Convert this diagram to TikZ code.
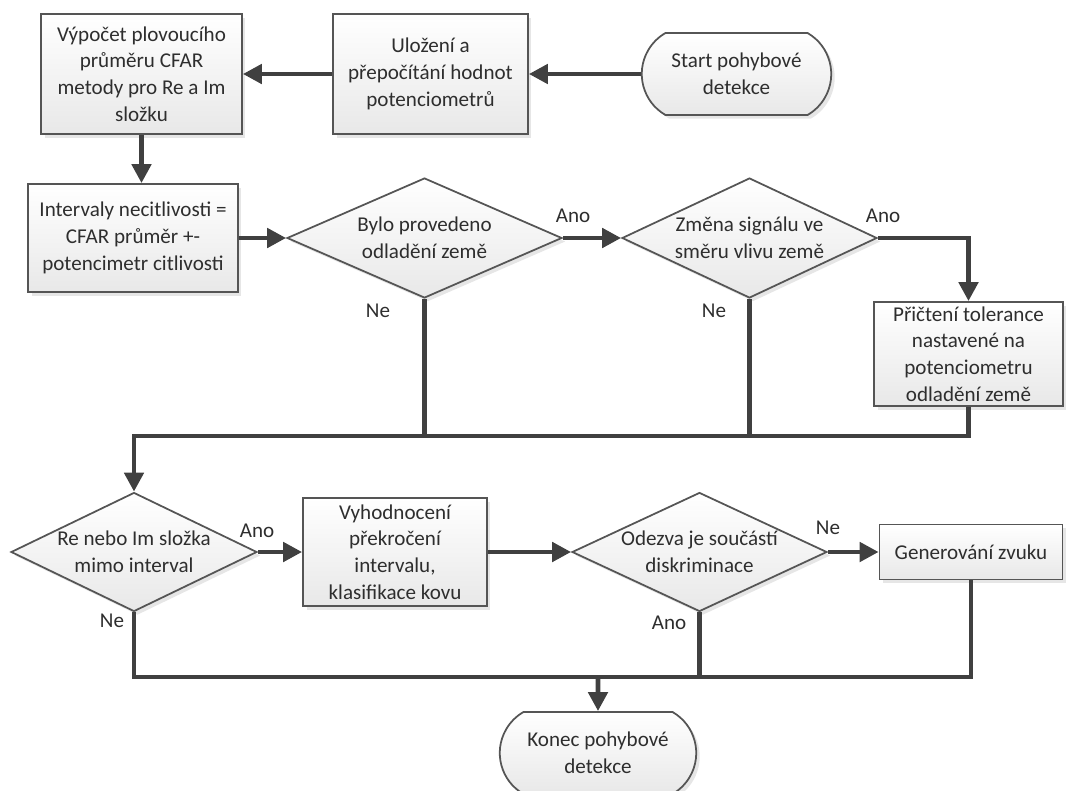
\documentclass[tikz,border=0pt]{standalone}
\usepackage{fontspec}
\setmainfont{Carlito}
\usetikzlibrary{arrows.meta,shapes.geometric,shapes.misc,shadows}

\definecolor{spojnice}{HTML}{404040}
\definecolor{okraj}{HTML}{555555}

\tikzset{
  every node/.style={font=\fontsize{12pt}{15.2pt}\selectfont, text=black!82},
  blok/.style={rectangle, draw=okraj, line width=1pt, top color=white, bottom color=black!9,
    align=center, inner sep=1pt, drop shadow={opacity=0.2, shadow xshift=2pt, shadow yshift=-2pt}},
  rozhodnuti/.style={blok, diamond, aspect=2.2, inner sep=0pt},
  terminal/.style={blok, rounded rectangle, rounded rectangle arc length=120},
  cara/.style={draw=spojnice, line width=2.7pt},
  sipka/.style={cara, -{Triangle[length=0.38cm, width=0.38cm]}},
  popis/.style={inner sep=1pt},
}

\begin{document}
\begin{tikzpicture}[x=0.02cm, y=-0.02cm]
		%%%%% START %%%%%
		\useasboundingbox (0,0) rectangle (1066,791);
		
		% horni rada
		\node[terminal, minimum width=3.86cm, minimum height=1.64cm] (start) at (736.5,74) {Start pohybové\\detekce};
		\node[blok, minimum width=3.9cm, minimum height=2.4cm] (ulozeni) at (430.5,74) {Uložení a\\přepočítání hodnot\\potenciometrů};
		\node[blok, minimum width=4.02cm, minimum height=2.4cm] (vypocet) at (141.5,74) {Výpočet plovoucího\\průměru CFAR\\metody pro Re a Im\\složku};
		
		% intervaly a odladeni zeme
		\node[blok, minimum width=4.2cm, minimum height=2.16cm] (intervaly) at (133,238) {Intervaly necitlivosti =\\CFAR průměr +-\\potencimetr citlivosti};
		\node[rozhodnuti, minimum width=5.5cm, minimum height=2.4cm] (odladeni) at (424.5,238) {Bylo provedeno\\odladění země};
		\node[rozhodnuti, minimum width=5.1cm, minimum height=2.4cm] (smer) at (749.5,238) {Změna signálu ve\\směru vlivu země};
		\node[blok, minimum width=3.78cm, minimum height=2.08cm] (tolerance) at (968.5,354) {Přičtení tolerance\\nastavené na\\potenciometru\\odladění země};
		
		% vyhodnoceni
		\node[rozhodnuti, minimum width=4.92cm, minimum height=2.38cm] (mimo) at (134,552) {Re nebo Im složka\\mimo interval};
		\node[blok, minimum width=3.68cm, minimum height=2.16cm] (vyhodnoceni) at (395,552) {Vyhodnocení\\překročení\\intervalu,\\klasifikace kovu};
		\node[rozhodnuti, minimum width=5.1cm, minimum height=2.38cm] (odezva) at (699.5,552) {Odezva je součástí\\diskriminace};
		\node[blok, minimum width=3.66cm, minimum height=1.1cm] (zvuk) at (971,552) {Generování zvuku};
		
		\node[terminal, minimum width=4cm, minimum height=1.64cm] (konec) at (598,753) {Konec pohybové\\detekce};
		
		% sbernice
		\coordinate (horni) at (134,436);
		\coordinate (dolni) at (598,677);
		
		\draw[sipka] (start) -- (ulozeni);
		\draw[sipka] (ulozeni) -- (vypocet);
		\draw[sipka] (vypocet.south) -- (vypocet.south |- intervaly.north);
		\draw[sipka] (intervaly) -- (odladeni);
		\draw[sipka] (odladeni) -- (smer);
		\draw[sipka] (smer.east) -| (tolerance.north);
		
		\draw[cara] (odladeni.south) -- (odladeni.south |- horni);
		\draw[cara] (smer.south) -- (smer.south |- horni);
		\draw[sipka] (tolerance.south) |- (horni) -- (mimo.north);
		
		\draw[sipka] (mimo) -- (vyhodnoceni);
		\draw[sipka] (vyhodnoceni) -- (odezva);
		\draw[sipka] (odezva) -- (zvuk);
		
		\draw[cara] (mimo.south) |- (dolni) -| (zvuk.south);
		\draw[cara] (odezva.south) -- (odezva.south |- dolni);
		\draw[sipka] (dolni) -- (konec);
		
		% popisky vetveni
		\node[popis] (ano1) at (573,216) {Ano};
		\node[popis] (ne1) at (378,311) {Ne};
		\node[popis] (ano2) at (883,216) {Ano};
		\node[popis] (ne2) at (714,311) {Ne};
		\node[popis] (ano3) at (257,531) {Ano};
		\node[popis] (ne3) at (112,621) {Ne};
		\node[popis] (ne4) at (828,528) {Ne};
		\node[popis] (ano4) at (669,623) {Ano};
		
		%%%%% END %%%%%
\end{tikzpicture}
\end{document}
